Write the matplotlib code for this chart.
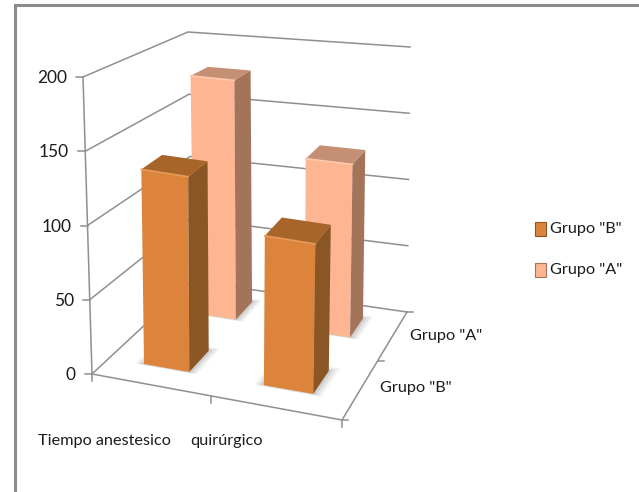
import numpy as np
import matplotlib
matplotlib.use("Agg")
import matplotlib.pyplot as plt
from matplotlib.patches import Polygon, Rectangle

categories = ["Tiempo anestesico", "quirúrgico"]
series_names = ['Grupo "B"', 'Grupo "A"']
grupo_b = [134, 102]
grupo_a = [178, 126]
y_ticks = [0, 50, 100, 150, 200]

W, H = 639, 492
Z_MAX = 200.0

plt.rcParams["font.family"] = ["Lato", "DejaVu Sans"]

# corners of the 3d box on the page: front-left, front-right, back-right, back-left
FLOOR = [(92, 374), (342, 420), (407, 312), (192, 281)]
CEIL = [(83, 77), (346, 115), (410, 47), (188, 32)]
# page pixels per unit of value at the floor corners
UNIT_PX = [1.485, 1.5, 1.325, 1.245]


def homography(pts):
    # unit square to quad
    A, b = [], []
    for (u, v), (x, y) in zip([(0, 0), (1, 0), (1, 1), (0, 1)], pts):
        A.append([u, v, 1, 0, 0, 0, -u * x, -v * x])
        A.append([0, 0, 0, u, v, 1, -u * y, -v * y])
        b += [x, y]
    return np.append(np.linalg.solve(np.array(A, float), np.array(b, float)), 1).reshape(3, 3)


HF = homography(FLOOR)
HC = homography(CEIL)


def on_plane(M, u, v):
    p = M @ np.array([u, v, 1.0])
    return p[:2] / p[2]


def proj(u, v, z=0.0):
    # points on the walls
    a = on_plane(HF, u, v)
    c = on_plane(HC, u, v)
    return tuple(a + (c - a) * z / Z_MAX)


def bar_pt(u, v, z=0.0):
    # points on the bars: up from the floor, leaning out towards the sides
    x, y = on_plane(HF, u, v)
    s = (UNIT_PX[0] * (1 - u) * (1 - v) + UNIT_PX[1] * u * (1 - v)
         + UNIT_PX[2] * u * v + UNIT_PX[3] * (1 - u) * v)
    h = s * z
    lean = -0.02 + 0.04 * u
    return (x + lean * h, y - h)


fig = plt.figure(figsize=(W / 100, H / 100), dpi=100)
ax = fig.add_axes([0, 0, 1, 1])
ax.set_xlim(0, W)
ax.set_ylim(H, 0)
ax.axis("off")

GRID = "#8f8f8f"
TXT = "#1c1c1c"
FS = 11.7

# outer border
ax.plot([14.5, 14.5, W], [H, 5, 5], color="#8c8c8c", lw=2.2, solid_joinstyle="miter")

# walls
for z in y_ticks:
    ax.plot(*zip(proj(0, 0, z), proj(0, 1, z), proj(1, 1, z)), color=GRID, lw=1.1, zorder=1)
    x0, y0 = proj(0, 0, z)
    ax.plot([x0 - 7, x0], [y0, y0], color=GRID, lw=1.1, zorder=1)
    ax.text(x0 - 16, y0 + 1, str(z), ha="right", va="center", fontsize=12.5, color=TXT)
ax.plot(*zip(proj(0, 0, 0), proj(0, 0, 200)), color=GRID, lw=1.1, zorder=1)

# floor edges and ticks
ax.plot(*zip(proj(0, 0), proj(1, 0), proj(1, 1)), color=GRID, lw=1.1, zorder=1)
for i in range(3):
    x0, y0 = proj(i / 2, 0)
    ax.plot([x0, x0], [y0, y0 + 7], color=GRID, lw=1.1, zorder=1)
for j in range(3):
    x0, y0 = proj(1, j / 2)
    ax.plot([x0, x0 + 6], [y0, y0], color=GRID, lw=1.1, zorder=1)

# bars: back row first so the front row sits on top
colors = {
    0: ("#DC843C", "#8B5626", "#A8652A", "#E89A58"),
    1: ("#FDB592", "#A3745A", "#C48F72", "#FFC9AE"),
}
BAR_U = 0.097
BAR_V = 0.10
COL_U = [0.25, 0.75]
ROW_V = [0.25, 0.77]
ROW_SKEW = [0.0, -0.005]
z = 5
for row, values in [(1, grupo_a), (0, grupo_b)]:
    front, side, top, edge = colors[row]
    for col, val in enumerate(values):
        cu = COL_U[col] + ROW_SKEW[row]
        cv = ROW_V[row]
        u0, u1 = cu - BAR_U, cu + BAR_U
        v0, v1 = cv - BAR_V, cv + BAR_V
        # soft shadow on the floor
        for grow, alpha in [(0.035, 0.08), (0.025, 0.12), (0.012, 0.18)]:
            shadow = [bar_pt(u0 - grow, v0 - grow * 0.3), bar_pt(u1 + grow, v0 - grow * 0.3),
                      bar_pt(u1 + grow, v1 + grow), bar_pt(u0 - grow, v1 + grow)]
            ax.add_patch(Polygon(shadow, closed=True, fc="#777777", ec="none", alpha=alpha, zorder=z))
        ax.add_patch(Polygon([bar_pt(u0, v0), bar_pt(u1, v0), bar_pt(u1, v0, val), bar_pt(u0, v0, val)],
                             closed=True, fc=front, ec="none", zorder=z + 1))
        ax.add_patch(Polygon([bar_pt(u1, v0), bar_pt(u1, v1), bar_pt(u1, v1, val), bar_pt(u1, v0, val)],
                             closed=True, fc=side, ec="none", zorder=z + 1))
        ax.add_patch(Polygon([bar_pt(u0, v0, val), bar_pt(u1, v0, val), bar_pt(u1, v1, val), bar_pt(u0, v1, val)],
                             closed=True, fc=top, ec="none", zorder=z + 1))
        # bevel highlight along the front top edge
        ax.plot(*zip(bar_pt(u0, v0, val), bar_pt(u1, v0, val)), color=edge, lw=1.2, zorder=z + 1)
        z += 2

# category and depth labels
ax.text(38, 441, categories[0], ha="left", va="center", fontsize=FS, color=TXT)
ax.text(190, 441, categories[1], ha="left", va="center", fontsize=FS, color=TXT)
ax.text(410, 336, series_names[1], ha="left", va="center", fontsize=FS, color=TXT)
ax.text(380, 388, series_names[0], ha="left", va="center", fontsize=FS, color=TXT)

# legend
for yy, name, row in [(229, series_names[0], 0), (270, series_names[1], 1)]:
    ax.add_patch(Rectangle((535, yy - 7), 11, 14, fc=colors[row][0], ec=colors[row][1], lw=0.8))
    ax.text(550, yy, name, ha="left", va="center", fontsize=FS, color=TXT)

fig.savefig("out.png", dpi=100)
